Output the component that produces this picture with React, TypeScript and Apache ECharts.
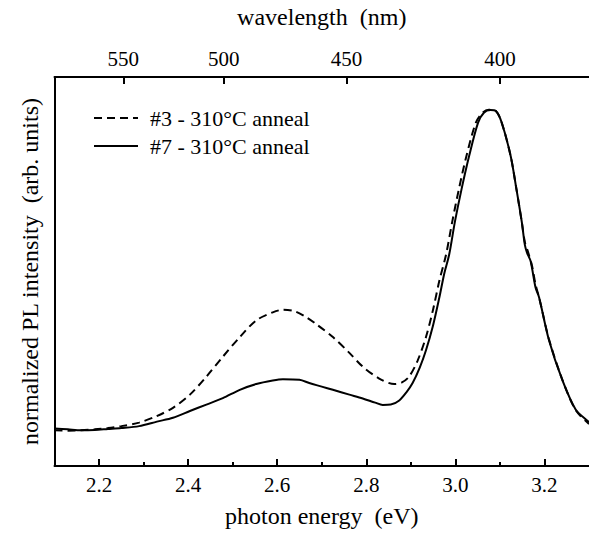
import React, { useEffect, useRef } from "react";
import * as echarts from "echarts";

// Sample #3 (dashed)
const energy3 = [2.1, 2.13, 2.16, 2.19, 2.22, 2.25, 2.29, 2.329, 2.366, 2.404, 2.441, 2.478, 2.516, 2.553, 2.59, 2.613, 2.64, 2.665, 2.687, 2.725, 2.762, 2.792, 2.829, 2.863, 2.88, 2.896, 2.915, 2.934, 2.95, 2.964, 2.979, 2.993, 3.008, 3.025, 3.046, 3.061, 3.075, 3.091, 3.104, 3.124, 3.137, 3.149, 3.156, 3.163, 3.172, 3.18, 3.188, 3.21, 3.24, 3.27, 3.3];
const intensity3 = [0.001, 0.0, 0.001, 0.004, 0.008, 0.014, 0.025, 0.045, 0.071, 0.112, 0.168, 0.23, 0.291, 0.343, 0.368, 0.376, 0.371, 0.353, 0.332, 0.291, 0.242, 0.199, 0.162, 0.145, 0.15, 0.168, 0.217, 0.291, 0.377, 0.466, 0.547, 0.65, 0.752, 0.855, 0.958, 0.989, 0.998, 0.994, 0.958, 0.855, 0.752, 0.65, 0.586, 0.556, 0.513, 0.454, 0.414, 0.285, 0.159, 0.064, 0.021];

// Sample #7 (solid)
const energy7 = [2.1, 2.13, 2.16, 2.19, 2.22, 2.25, 2.29, 2.33, 2.366, 2.404, 2.441, 2.478, 2.516, 2.553, 2.59, 2.613, 2.65, 2.672, 2.7, 2.725, 2.762, 2.792, 2.82, 2.837, 2.855, 2.874, 2.89, 2.904, 2.92, 2.934, 2.95, 2.964, 2.975, 2.986, 2.999, 3.014, 3.031, 3.051, 3.064, 3.079, 3.091, 3.104, 3.124, 3.137, 3.149, 3.156, 3.161, 3.169, 3.18, 3.188, 3.21, 3.24, 3.27, 3.297, 3.3];
const intensity7 = [0.007, 0.004, 0.001, 0.002, 0.005, 0.008, 0.014, 0.028, 0.04, 0.061, 0.081, 0.101, 0.127, 0.145, 0.156, 0.16, 0.158, 0.148, 0.137, 0.127, 0.112, 0.1, 0.087, 0.08, 0.081, 0.094, 0.119, 0.148, 0.196, 0.25, 0.328, 0.414, 0.488, 0.547, 0.65, 0.752, 0.855, 0.958, 0.989, 0.997, 0.994, 0.958, 0.855, 0.752, 0.65, 0.578, 0.553, 0.527, 0.445, 0.414, 0.282, 0.158, 0.066, 0.03, 0.027];

const energyMajorTicks = [2.2, 2.4, 2.6, 2.8, 3.0, 3.2];
const energyMinorTicks = [2.3, 2.5, 2.7, 2.9, 3.1];
const wavelengthTicks = [550, 500, 450, 400];
const HC = 1240; // eV·nm

const seriesNames = ["#3 - 310°C anneal", "#7 - 310°C anneal"];

const FONT = "'Liberation Serif', 'Times New Roman', 'DejaVu Serif', serif";

export default function App() {
  const ref = useRef<HTMLDivElement>(null);
  useEffect(() => {
    if (!ref.current) return;
    const chart = echarts.init(ref.current, undefined, { renderer: "svg" });
    const topVals = wavelengthTicks.map((w) => HC / w);
    const axisLineStyle = { color: "#000", width: 2 };
    chart.setOption({
      animation: false,
      backgroundColor: "#fff",
      textStyle: { fontFamily: FONT },
      grid: { left: 54.5, right: -1, top: 77, bottom: 62.5, containLabel: false },
      legend: {
        orient: "vertical",
        left: 88,
        top: 102,
        itemWidth: 44,
        itemHeight: 14,
        itemGap: 6,
        data: seriesNames,
        itemStyle: { opacity: 0 },
        textStyle: { fontFamily: FONT, fontSize: 22, color: "#000", padding: [0, 0, 0, 7] },
      },
      xAxis: [
        {
          type: "value",
          position: "bottom",
          min: 2.1,
          max: 3.3,
          name: "photon energy  (eV)",
          nameLocation: "middle",
          nameGap: 38,
          nameTextStyle: { fontFamily: FONT, fontSize: 24, color: "#000" },
          axisLine: { show: true, onZero: false, lineStyle: axisLineStyle },
          axisTick: { show: true, inside: true, length: 7, customValues: energyMajorTicks, lineStyle: { color: "#000", width: 2 } },
          axisLabel: {
            customValues: energyMajorTicks,
            formatter: (v: number) => v.toFixed(1),
            fontFamily: FONT,
            fontSize: 21,
            color: "#000",
            margin: 8,
          },
          splitLine: { show: false },
        },
        {
          type: "value",
          position: "bottom",
          min: 2.1,
          max: 3.3,
          axisLine: { show: false, onZero: false },
          axisTick: { show: true, inside: true, length: 4, customValues: energyMinorTicks, lineStyle: { color: "#000", width: 2 } },
          axisLabel: { show: false },
          splitLine: { show: false },
        },
        {
          type: "value",
          position: "top",
          min: 2.1,
          max: 3.3,
          name: "wavelength  (nm)",
          nameLocation: "middle",
          nameGap: 48,
          nameTextStyle: { fontFamily: FONT, fontSize: 24, color: "#000" },
          axisLine: { show: true, onZero: false, lineStyle: axisLineStyle },
          axisTick: { show: true, inside: true, length: 7, customValues: topVals, lineStyle: { color: "#000", width: 2 } },
          axisLabel: {
            customValues: topVals,
            formatter: (v: number) => String(Math.round(HC / v)),
            fontFamily: FONT,
            fontSize: 21,
            color: "#000",
            margin: 8,
          },
          splitLine: { show: false },
        },
      ],
      yAxis: {
        type: "value",
        min: -0.11,
        max: 1.1,
        name: "normalized PL intensity  (arb. units)",
        nameLocation: "middle",
        nameRotate: 90,
        nameGap: 13,
        nameTextStyle: { fontFamily: FONT, fontSize: 24, color: "#000" },
        axisLine: { show: true, onZero: false, lineStyle: axisLineStyle },
        axisTick: { show: false },
        axisLabel: { show: false },
        splitLine: { show: false },
      },
      series: [
        {
          name: seriesNames[0],
          type: "line",
          xAxisIndex: 0,
          symbol: "none",
          smooth: 0.3,
          data: energy3.map((e, i) => [e, intensity3[i]]),
          lineStyle: { color: "#000", width: 2, type: [8, 5] },
          itemStyle: { color: "#000" },
        },
        {
          name: seriesNames[1],
          type: "line",
          xAxisIndex: 0,
          symbol: "none",
          smooth: 0.3,
          data: energy7.map((e, i) => [e, intensity7[i]]),
          lineStyle: { color: "#000", width: 2, type: "solid" },
          itemStyle: { color: "#000" },
        },
      ],
    });
    return () => chart.dispose();
  }, []);
  return (
    <div
      ref={ref}
      style={{ position: "fixed", left: 0, top: 0, width: 589, height: 533, background: "#fff" }}
    />
  );
}
